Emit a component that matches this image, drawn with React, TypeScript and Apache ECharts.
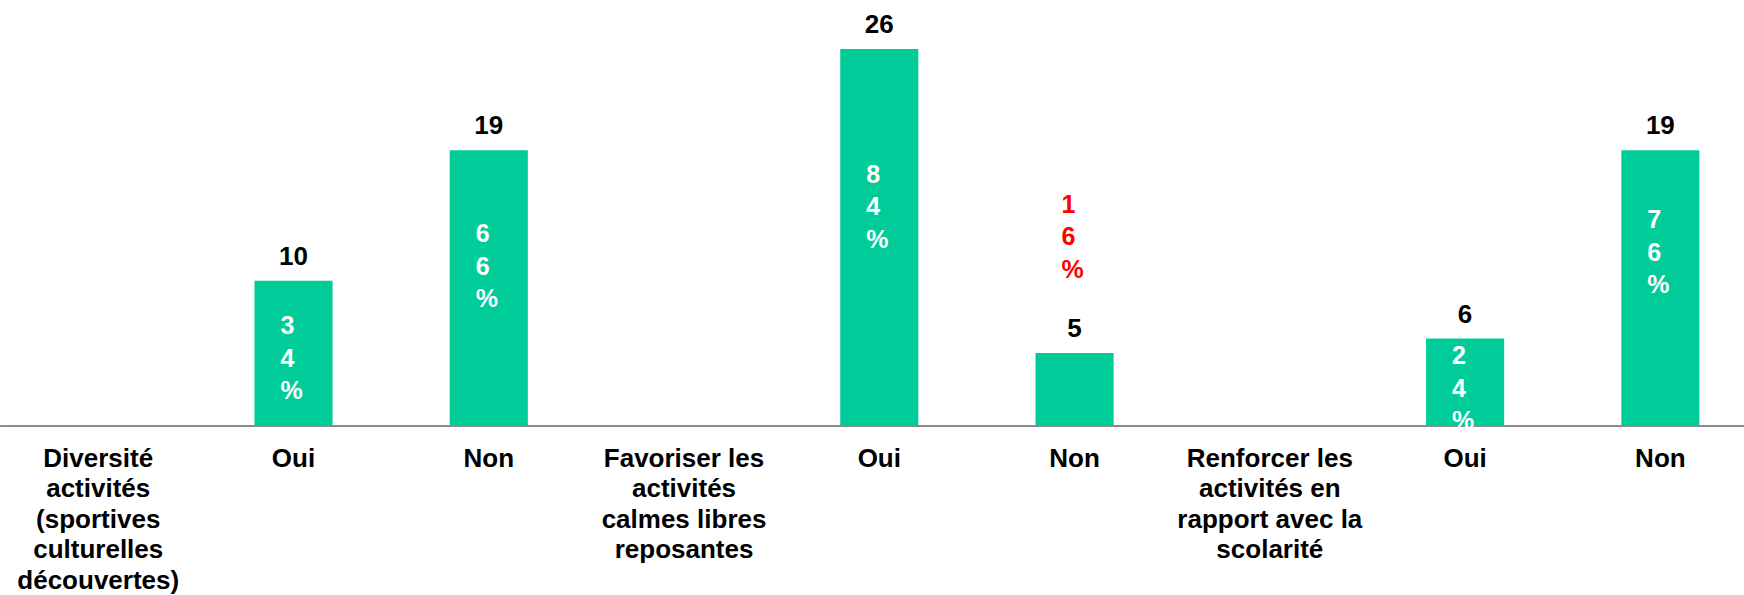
import React, { useEffect, useRef } from "react";
import * as echarts from "echarts";

// ---- Data ----
const categories = [
  "Diversité\nactivités\n(sportives\nculturelles\ndécouvertes)",
  "Oui",
  "Non",
  "Favoriser les\nactivités\ncalmes libres\nreposantes",
  "Oui",
  "Non",
  "Renforcer les\nactivités en\nrapport avec la\nscolarité",
  "Oui",
  "Non",
];
const counts = [null, 10, 19, null, 26, 5, null, 6, 19];
const percents = [null, "34%", "66%", null, "84%", "16%", null, "24%", "76%"];

// ---- Layout / style (not data) ----
const W = 1744;
const H = 595;
const CHART_W = 1758; // plot runs slightly past the right edge of the frame
const GRID_TOP = 20;
const GRID_BOTTOM = 168;
const GRID_LEFT = 0.6;
const Y_MAX = 28;
const pctOffsetsY = [0, 4.5, -22, 0, -31, -153, 0, 5.5, -36];
const pctColors = ["#fff", "#fff", "#fff", "#fff", "#fff", "#ff0000", "#fff", "#fff", "#fff"];
const BAR_COLOR = "#00CC99";
const FONT = "'Liberation Sans', Arial, sans-serif";
const FS = 26;

export default function App() {
  const ref = useRef<HTMLDivElement>(null);

  useEffect(() => {
    document.body.style.margin = "0";
    document.body.style.overflow = "hidden";
    if (!ref.current) return;
    const chart = echarts.init(ref.current, undefined, { renderer: "svg" });

    chart.setOption({
      animation: false,
      grid: { left: GRID_LEFT, right: 0, top: GRID_TOP, bottom: GRID_BOTTOM },
      xAxis: {
        type: "category",
        data: categories,
        axisLine: { show: true, lineStyle: { color: "#8c8c8c", width: 2 } },
        axisTick: { show: false },
        axisLabel: {
          interval: 0,
          margin: 17,
          fontFamily: FONT,
          fontWeight: "bold",
          fontSize: FS,
          lineHeight: 30.5,
          color: "#000",
          align: "center",
        },
      },
      yAxis: { type: "value", min: 0, max: Y_MAX, show: false },
      series: [
        {
          type: "bar",
          data: counts,
          barWidth: "40%",
          barGap: "-100%",
          itemStyle: { color: BAR_COLOR },
          label: {
            show: true,
            position: "top",
            distance: 12,
            fontFamily: FONT,
            fontWeight: "bold",
            fontSize: FS,
            lineHeight: 26,
            color: "#000",
          },
        },
        {
          type: "bar",
          barWidth: "40%",
          barGap: "-100%",
          z: 5,
          itemStyle: { color: "rgba(0,0,0,0)" },
          data: counts.map((v, j) =>
            v == null
              ? null
              : {
                  value: v,
                  label: {
                    show: true,
                    position: "inside",
                    align: "left",
                    offset: [-13, pctOffsetsY[j]],
                    formatter: String(percents[j]).split("").join("\n"),
                    fontFamily: FONT,
                    fontWeight: "bold",
                    fontSize: 25,
                    lineHeight: 32.5,
                    color: pctColors[j],
                  },
                }
          ),
        },
      ],
    });

    return () => chart.dispose();
  }, []);

  return (
    <div style={{ width: W, height: H, overflow: "hidden", position: "relative" }}>
      <div ref={ref} style={{ width: CHART_W, height: H }} />
    </div>
  );
}
